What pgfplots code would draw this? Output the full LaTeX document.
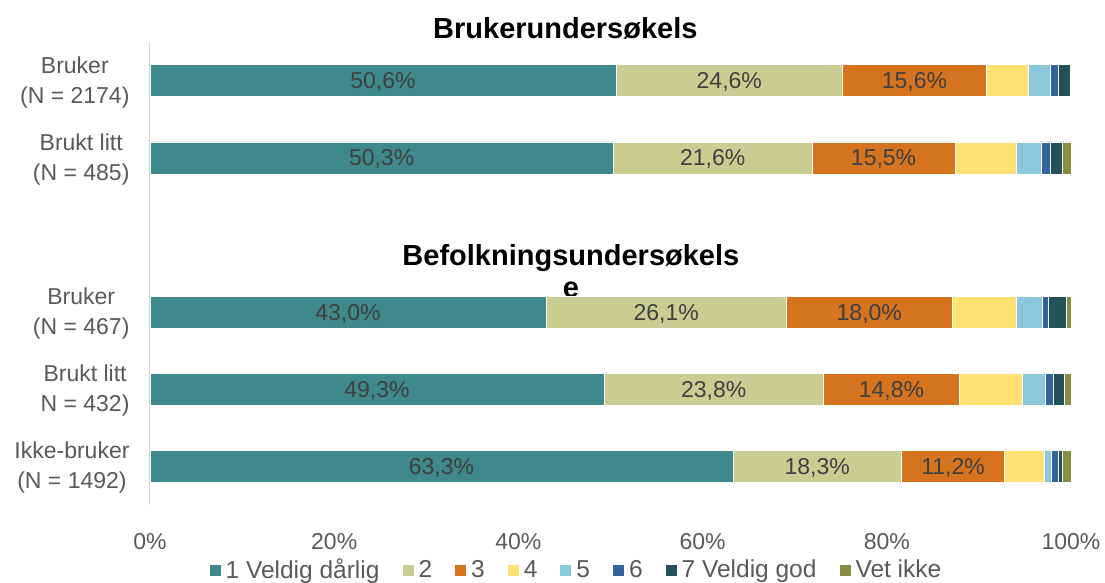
\documentclass[border=0pt]{standalone}
\usepackage{pgfplots}
\pgfplotsset{compat=1.18}
\usepackage{pgfplotstable}
\usepackage{fontspec}
\setmainfont{Liberation Sans}
\definecolor{c1}{RGB}{62,137,140}
\definecolor{c2}{RGB}{200,205,146}
\definecolor{c3}{RGB}{213,115,30}
\definecolor{c4}{RGB}{255,224,115}
\definecolor{c5}{RGB}{140,200,220}
\definecolor{c6}{RGB}{50,102,155}
\definecolor{c7}{RGB}{36,82,90}
\definecolor{c8}{RGB}{135,142,66}
\definecolor{txt}{RGB}{89,89,89}
\definecolor{lbl}{RGB}{64,64,64}
\definecolor{axl}{RGB}{217,217,217}
\newcommand\fs{\fontsize{23}{27}\selectfont}
\pgfplotstableread{
row a b c d e f g h
0 50.6 24.6 15.6 4.6 2.4 0.8 1.3 0.1
1 50.3 21.6 15.5 6.7 2.7 1.0 1.2 1.0
3 43.0 26.1 18.0 7.0 2.8 0.6 2.0 0.5
4 49.3 23.8 14.8 6.8 2.5 0.9 1.2 0.7
5 63.3 18.3 11.2 4.3 0.8 0.7 0.5 0.9
}\data
\pgfplotsset{
  seglabel/.style={
    nodes near coords={\pgfmathprintnumber[fixed,fixed zerofill,precision=1,use comma]{\pgfplotspointmeta}\%},
    point meta=explicit,
    every node near coord/.append style={anchor=center, font=\fs, text=lbl, inner sep=0pt, yshift=-1.5pt},
  }
}
\begin{document}
\begin{tikzpicture}
\begin{axis}[
  at={(0,0)}, anchor=south west,
  scale only axis, width=921pt, height=463pt,
  xbar stacked, bar width=32pt,
  xmin=0, xmax=100, ymin=-0.5, ymax=5.5, y dir=reverse,
  clip=false,
  /pgf/number format/assume math mode=true,
  axis y line*=left, axis x line*=bottom,
  axis line style={-},
  x axis line style={draw=none},
  y axis line style={draw=axl, line width=1pt},
  major tick length=0pt,
  xtick={0,20,40,60,80,100},
  xticklabel={\pgfmathprintnumber{\tick}\%},
  xticklabel style={font=\fs, text=txt, yshift=-25pt},
  ytick={0,1,3,4,5},
  yticklabels={{Bruker\\[3pt](N = 2174)},{Brukt litt\\[3pt](N = 485)},{Bruker\\[3pt](N = 467)},{Brukt litt\\[3pt]N = 432)},{Ikke-bruker\\[3pt](N = 1492)}},
  yticklabel style={font=\fs, text=txt, align=center, xshift=-17pt, yshift=-1.5pt},
  legend style={at={(0.4625,-0.14)}, anchor=center, draw=none, fill=none, legend columns=-1, font=\fontsize{24.5}{28}\selectfont, text=txt,
    /tikz/every even column/.append style={column sep=20pt}},
  legend image code/.code={\fill[#1] (0pt,-6pt) rectangle (12pt,6pt); \path (14.5pt,0pt);},
]
\addplot[fill=c1, draw=white, line width=0.5pt, seglabel] table[x=a, y=row, meta=a] {\data};
\addplot[fill=c2, draw=white, line width=0.5pt, seglabel] table[x=b, y=row, meta=b] {\data};
\addplot[fill=c3, draw=white, line width=0.5pt, seglabel] table[x=c, y=row, meta=c] {\data};
\addplot[fill=c4, draw=white, line width=0.5pt] table[x=d, y=row] {\data};
\addplot[fill=c5, draw=white, line width=0.5pt] table[x=e, y=row] {\data};
\addplot[fill=c6, draw=white, line width=0.5pt] table[x=f, y=row] {\data};
\addplot[fill=c7, draw=white, line width=0.5pt] table[x=g, y=row] {\data};
\addplot[fill=c8, draw=white, line width=0.5pt] table[x=h, y=row] {\data};
\legend{1 Veldig dårlig,2,3,4,5,6,7 Veldig god,Vet ikke}
\node[font=\fontsize{29}{32}\selectfont\bfseries, align=center] at (axis cs:45.1,-0.68) {Brukerundersøkels};
\node[font=\fontsize{29}{32}\selectfont\bfseries, align=center] at (axis cs:45.7,2.474) {Befolkningsundersøkels\\e};
\end{axis}
\pgfresetboundingbox
\path (-150pt,-77pt) rectangle (955pt,505pt);
\end{tikzpicture}
\end{document}
